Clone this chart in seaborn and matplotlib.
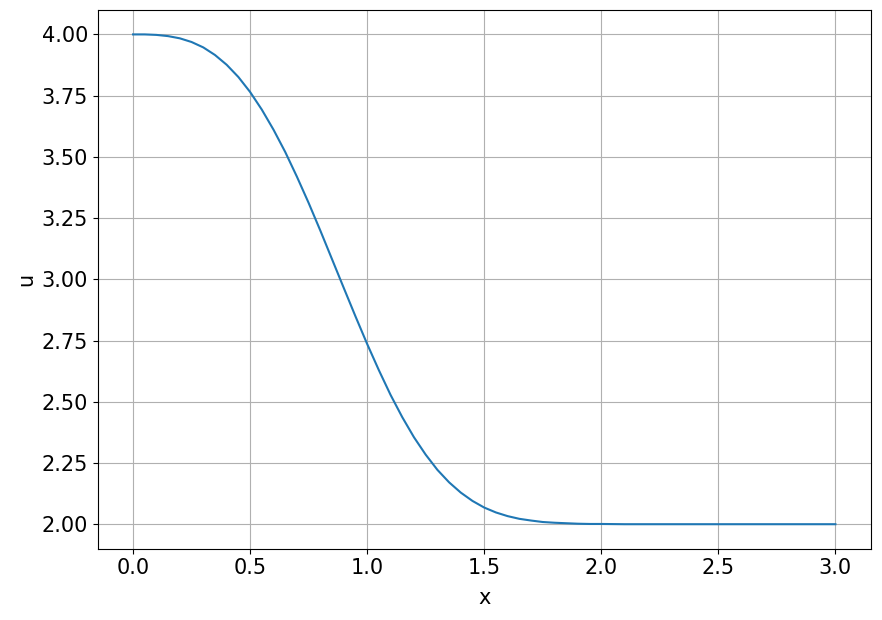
import numpy as np
import pandas as pd
import matplotlib
matplotlib.use('Agg')
import matplotlib.pyplot as plt
import seaborn as sns

# --- values ---
x_vals = [0.0, 0.05, 0.1, 0.15, 0.2, 0.25, 0.3, 0.35, 0.4, 0.45, 0.5, 0.55, 0.6, 0.65,
          0.7, 0.75, 0.8, 0.85, 0.9, 0.95, 1.0, 1.05, 1.1, 1.15, 1.2, 1.25, 1.3, 1.35,
          1.4, 1.45, 1.5, 1.55, 1.6, 1.65, 1.7, 1.75, 1.8, 1.85, 1.9, 1.95, 2.0,
          2.1, 2.2, 2.3, 2.4, 2.5, 2.6, 2.7, 2.8, 2.9, 3.0]
u_vals = [4.000, 4.000, 3.998, 3.993, 3.984, 3.969, 3.947, 3.916, 3.876, 3.826, 3.765,
          3.693, 3.611, 3.520, 3.419, 3.312, 3.199, 3.082, 2.965, 2.849, 2.736, 2.629,
          2.528, 2.437, 2.355, 2.284, 2.222, 2.171, 2.129, 2.095, 2.068, 2.048, 2.033,
          2.022, 2.015, 2.009, 2.006, 2.004, 2.002, 2.001, 2.001,
          2.000, 2.000, 2.000, 2.000, 2.000, 2.000, 2.000, 2.000, 2.000, 2.000]

df = pd.DataFrame({'x': x_vals, 'u': u_vals})

plt.rcParams['font.size'] = 15
fig, ax = plt.subplots(figsize=(8.82, 6.2), dpi=100)
sns.lineplot(data=df, x='x', y='u', ax=ax, color='#1f77b4', linewidth=1.5)
ax.grid(True, color='#b0b0b0', linewidth=0.8)
ax.set_xlabel('x', labelpad=7)
ax.set_ylabel('u')
ax.tick_params(labelsize=15)
fig.subplots_adjust(left=0.111, right=0.987, top=0.984, bottom=0.115)
fig.savefig('out.png')
